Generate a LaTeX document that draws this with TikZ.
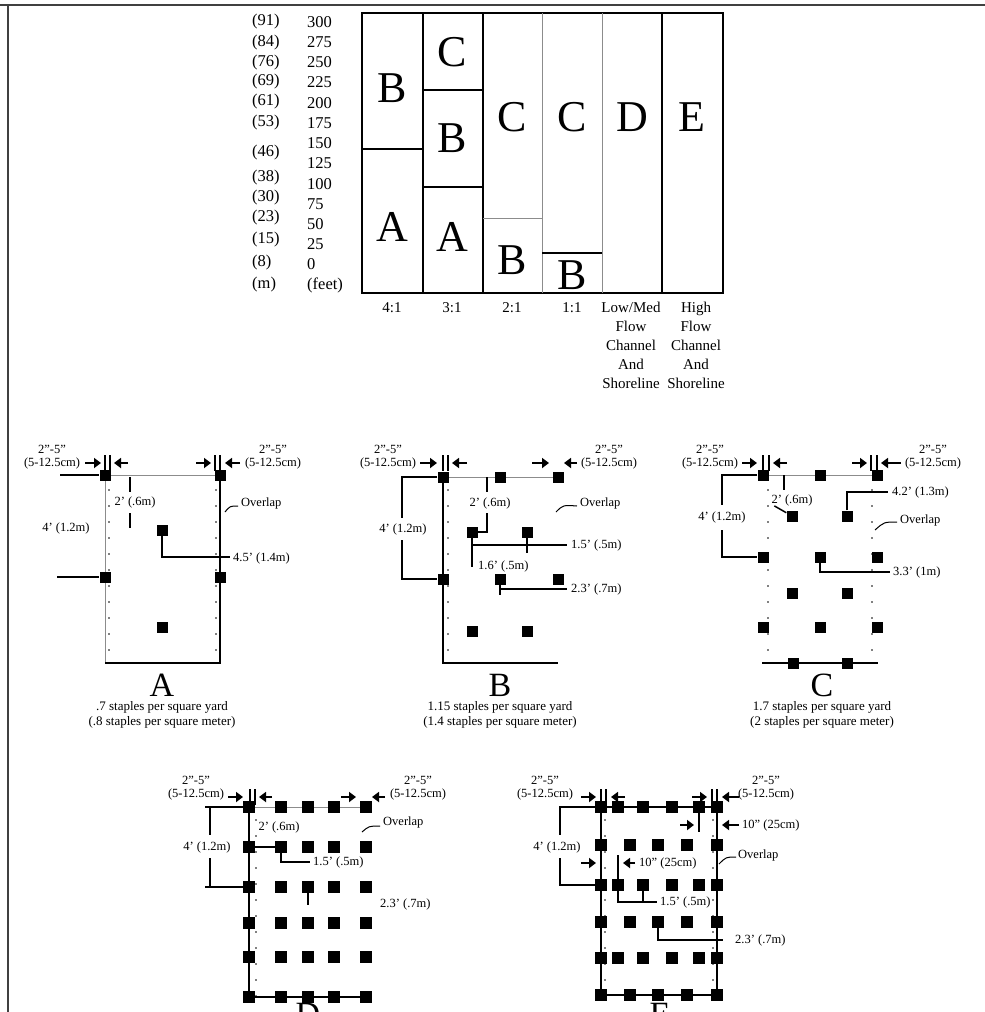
\documentclass[tikz,border=0pt]{standalone}
\usepackage{fontspec}
\setmainfont{Liberation Serif}
\usetikzlibrary{arrows.meta}

\begin{document}
\begin{tikzpicture}[x=1pt,y=-1pt,
    bigl/.style={font=\fontsize{44}{44}\selectfont,inner sep=0pt},
    lab/.style={font=\fontsize{16.5}{19}\selectfont,inner sep=0pt},
    blab/.style={font=\fontsize{15}{19}\selectfont,inner sep=0pt,align=center,anchor=north},
    ann/.style={font=\fontsize{12.5}{13}\selectfont,inner sep=0pt,align=center},
    capt/.style={font=\fontsize{34}{34}\selectfont,inner sep=0pt},
    note/.style={font=\fontsize{13}{14.5}\selectfont,inner sep=0pt,align=center},
    stp/.style={fill=black,minimum size=11pt,inner sep=0pt},
    bord/.style={line width=1.8pt},
    grayln/.style={line width=1pt,black!45},
    dotln/.style={line width=1.8pt,line cap=round,dash pattern=on 0pt off 16pt},
    dimln/.style={line width=1.5pt},
    arw/.style={line width=2.6pt,-{Triangle[length=7pt,width=10pt]}},
    bar/.style={line width=1.3pt},
    curl/.style={line width=1pt}
  ]
\useasboundingbox (0,0) rectangle (985,1012);
% page frame
\draw[line width=2pt,black!75] (0,5) -- (985,5);
\draw[line width=1.5pt,black!75] (8,5) -- (8,1012);

% slope chart
\draw[bord] (362,13) rectangle (723,293);
\draw[bord] (423,13) -- (423,293) (483,13) -- (483,293) (662,13) -- (662,293);
\draw[grayln] (542,13) -- (542,293) (602,13) -- (602,293);
\draw[bord] (362,149) -- (423,149) (423,90) -- (483,90) (423,187) -- (483,187) (542,253) -- (602,253);
\draw[grayln] (483,218) -- (542,218);
\node[bigl] (k1b) at (392,88) {B};
\node[bigl] (k1a) at (392,227) {A};
\node[bigl] (k2c) at (452,52) {C};
\node[bigl] (k2b) at (452,138) {B};
\node[bigl] (k2a) at (452,237) {A};
\node[bigl] (k3c) at (512,117) {C};
\node[bigl] (k3b) at (512,260) {B};
\node[bigl] (k4c) at (572,117) {C};
\node[bigl] (k4b) at (572,275) {B};
\node[bigl] (k5d) at (632,117) {D};
\node[bigl] (k6e) at (692,117) {E};
\foreach \v [count=\i from 0] in {300,275,250,225,200,175,150,125,100,75,50,25,0}
  \node[lab,anchor=west] (ft\i) at (307,22+20.2*\i) {\v};
\node[lab,anchor=west] (ftu) at (307,285) {(feet)};
\foreach \m/\y in {91/22,84/43,76/63,69/82,61/102,53/123,46/153,38/178,30/198,23/218,15/240,8/263}
  \node[lab,anchor=west] (m\m) at (252,\y) {(\m)};
\node[lab,anchor=west] (mu) at (252,285) {(m)};
\node[blab] (g4) at (392,302) {4:1};
\node[blab] (g3) at (452,302) {3:1};
\node[blab] (g2) at (512,302) {2:1};
\node[blab] (g1) at (572,302) {1:1};
\node[blab] (glow) at (631,302) {Low/Med\\Flow\\Channel\\And\\Shoreline};
\node[blab] (ghigh) at (696,302) {High\\Flow\\Channel\\And\\Shoreline};

% pattern A
\draw[grayln] (105,663) -- (105,475) -- (220,475);
\draw[bord] (220,475) -- (220,663) -- (105,663);
\draw[dotln] (109,490) -- (109,663);
\draw[dotln] (216,490) -- (216,663);
\foreach \n/\x/\y in {1/105/475,2/220/475,3/162/530,4/105/577,5/220/577,6/162/627}
  \node[stp] (a\n) at (\x,\y) {};
\node[ann] (al) at (52,457) {2"-5"\\(5-12.5cm)};
\draw[arw] (85,463) -- (101,463);
\draw[bar] (105,455) -- (105,471) (110,455) -- (110,471);
\draw[arw] (128,463) -- (114,463);
\draw[arw] (196,463) -- (211,463);
\draw[bar] (215,455) -- (215,471) (220,455) -- (220,471);
\draw[arw] (240,463) -- (225,463);
\node[ann] (ar) at (273,457) {2"-5"\\(5-12.5cm)};
\draw[dimln] (60,475) -- (a1);
\node[ann] (a4ft) at (66,528) {4' (1.2m)};
\draw[dimln] (57,577) -- (a4);
\draw[dimln] (130,477) -- (130,492);
\node[ann] (a2ft) at (135,502) {2' (.6m)};
\draw[dimln] (130,513) -- (130,528);
\draw[dimln] (a3) |- (230,557);
\node[ann,anchor=west] (a45) at (233,558) {4.5' (1.4m)};
\draw[curl] (225,512) .. controls (230,506) .. (238,506);
\node[ann,anchor=west] (aov) at (241,503) {Overlap};
\node[capt] (acap) at (162,685) {A};
\node[note] (anote) at (162,715) {.7 staples per square yard\\(.8 staples per square meter)};

% pattern B
\draw[grayln] (443,477) -- (558,477);
\draw[bord] (443,477) -- (443,663) -- (558,663);
\draw[dotln] (448,490) -- (448,663);
\foreach \n/\x/\y in {11/443/477,12/500/477,13/558/477,21/472/532,22/527/532,
    31/443/579,32/500/579,33/558/579,41/472/631,42/527/631}
  \node[stp] (b\n) at (\x,\y) {};
\node[ann] (bl) at (388,457) {2"-5"\\(5-12.5cm)};
\draw[arw] (420,463) -- (437,463);
\draw[bar] (443,455) -- (443,471) (448,455) -- (448,471);
\draw[arw] (467,463) -- (452,463);
\draw[arw] (532,463) -- (549,463);
\draw[arw] (577,463) -- (564,463);
\node[ann] (br) at (609,457) {2"-5"\\(5-12.5cm)};
\draw[dimln] (b11) -- (402,477) -- (402,518);
\node[ann] (b4ft) at (403,529) {4' (1.2m)};
\draw[dimln] (402,540) -- (402,579) -- (b31);
\draw[dimln] (487,477) -- (487,492);
\node[ann] (b2ft) at (490,503) {2' (.6m)};
\draw[dimln] (487,513) |- (b21.east);
\draw[curl] (556,512) .. controls (563,505) .. (577,506);
\node[ann,anchor=west] (bov) at (580,503) {Overlap};
\draw[dimln] (b21) -- (472,567);
\draw[dimln] (472,545) -- (567,545);
\draw[dimln] (b22) -- (527,553);
\node[ann,anchor=west] (bh) at (571,545) {1.5' (.5m)};
\node[ann,anchor=west] (bv) at (478,566) {1.6' (.5m)};
\draw[dimln] (b32) -- (500,595);
\draw[dimln] (500,589) -- (567,589);
\node[ann,anchor=west] (bw) at (571,589) {2.3' (.7m)};
\node[capt] (bcap) at (500,685) {B};
\node[note] (bnote) at (500,715) {1.15 staples per square yard\\(1.4 staples per square meter)};

% pattern C
\draw[grayln] (763,475) -- (877,475);
\draw[bord] (762,663) -- (878,663);
\draw[dotln] (768,490) -- (768,663);
\draw[dotln] (872,490) -- (872,663);
\foreach \n/\x/\y in {11/763/475,12/820/475,13/877/475,21/792/516,22/847/516,
    31/763/557,32/820/557,33/877/557,41/792/593,42/847/593,
    51/763/627,52/820/627,53/877/627,61/793/663,62/847/663}
  \node[stp] (c\n) at (\x,\y) {};
\node[ann] (cl) at (710,457) {2"-5"\\(5-12.5cm)};
\draw[arw] (742,463) -- (757,463);
\draw[bar] (763,455) -- (763,471) (769,455) -- (769,471);
\draw[arw] (787,463) -- (773,463);
\draw[arw] (852,463) -- (867,463);
\draw[bar] (871,455) -- (871,471) (877,455) -- (877,471);
\draw[arw] (901,463) -- (881,463);
\node[ann] (cr) at (933,457) {2"-5"\\(5-12.5cm)};
\draw[dimln] (c11) -- (722,475) -- (722,505);
\node[ann] (c4ft) at (722,517) {4' (1.2m)};
\draw[dimln] (722,530) -- (722,557) -- (c31);
\draw[dimln] (784,475) -- (784,490);
\node[ann] (c2ft) at (792,500) {2' (.6m)};
\draw[dimln] (c2ft.south west) ++(3,0) -- (c21);
\draw[dimln] (c22) |- (888,492);
\node[ann,anchor=west] (c42) at (892,492) {4.2' (1.3m)};
\draw[curl] (875,530) .. controls (884,522) .. (897,522);
\node[ann,anchor=west] (cov) at (900,520) {Overlap};
\draw[dimln] (c32) |- (890,572);
\node[ann,anchor=west] (c33) at (893,572) {3.3' (1m)};
\node[capt] (ccap) at (822,685) {C};
\node[note] (cnote) at (822,715) {1.7 staples per square yard\\(2 staples per square meter)};

% pattern D
\draw[grayln] (249,807) -- (367,807);
\draw[bord] (249,807) -- (249,997) -- (367,997);
\draw[dotln] (256,820) -- (256,997);
\foreach \r/\y in {1/807,2/847,3/887,4/923,5/957,6/997}
  \foreach \c/\x in {1/249,2/281,3/308,4/334,5/366}
    \node[stp,minimum size=12pt] (d\r\c) at (\x,\y) {};
\node[ann] (dl) at (196,788) {2"-5"\\(5-12.5cm)};
\draw[arw] (228,797) -- (243,797);
\draw[bar] (250,789) -- (250,805) (255,789) -- (255,805);
\draw[arw] (272,797) -- (259,797);
\draw[arw] (341,797) -- (356,797);
\draw[arw] (385,797) -- (372,797);
\node[ann] (dr) at (418,788) {2"-5"\\(5-12.5cm)};
\draw[dimln] (d11) -- (205,807);
\draw[dimln] (210,807) -- (210,835);
\node[ann] (d4ft) at (207,847) {4' (1.2m)};
\draw[dimln] (210,858) -- (210,887);
\draw[dimln] (205,887) -- (d31);
\node[ann] (d2ft) at (279,827) {2' (.6m)};
\draw[dimln] (d21) -- (d22);
\draw[dimln] (d22) |- (310,862);
\node[ann,anchor=west] (d15) at (313,862) {1.5' (.5m)};
\draw[dimln] (d33) -- (308,905);
\node[ann,anchor=west] (d23) at (380,904) {2.3' (.7m)};
\draw[curl] (362,832) .. controls (369,826) .. (380,826);
\node[ann,anchor=west] (dov) at (383,822) {Overlap};
\node[capt] (dcap) at (308,1014) {D};

% pattern E
\draw[bord] (601,807) rectangle (717,995);
\draw[dotln] (605,820) -- (605,995);
\draw[dotln] (713,820) -- (713,995);
\foreach \r/\y in {1/807,3/885,5/958}
  \foreach \c/\x in {1/601,2/618,3/643,4/672,5/699,6/717}
    \node[stp,minimum size=12pt] (e\r\c) at (\x,\y) {};
\foreach \r/\y in {2/845,4/922,6/995}
  \foreach \c/\x in {1/601,2/630,3/658,4/687,5/717}
    \node[stp,minimum size=12pt] (e\r\c) at (\x,\y) {};
\node[ann] (el) at (545,788) {2"-5"\\(5-12.5cm)};
\draw[arw] (581,797) -- (596,797);
\draw[bar] (601,789) -- (601,805) (606,789) -- (606,805);
\draw[arw] (625,797) -- (611,797);
\draw[arw] (692,797) -- (707,797);
\draw[bar] (712,789) -- (712,805) (717,789) -- (717,805);
\draw[arw] (739,797) -- (722,797);
\node[ann] (er) at (766,788) {2"-5"\\(5-12.5cm)};
\draw[dimln] (e11) -- (560,807) -- (560,835);
\node[ann] (e4ft) at (557,847) {4' (1.2m)};
\draw[dimln] (560,858) -- (560,885) -- (e31);
\draw[arw] (680,825) -- (694,825);
\draw[dimln] (e15) -- (699,832);
\draw[arw] (739,825) -- (722,825);
\node[ann,anchor=west] (e10a) at (742,825) {10" (25cm)};
\draw[arw] (581,863) -- (596,863);
\draw[dimln] (e32) -- (618,855);
\draw[arw] (635,863) -- (623,863);
\node[ann,anchor=west] (e10b) at (639,863) {10" (25cm)};
\draw[curl] (719,864) .. controls (726,857) .. (736,857);
\node[ann,anchor=west] (eov) at (738,855) {Overlap};
\draw[dimln] (e32) |- (657,902);
\draw[dimln] (e33) -- (643,902);
\node[ann,anchor=west] (e15l) at (660,902) {1.5' (.5m)};
\draw[dimln] (e43) |- (723,940);
\node[ann,anchor=west] (e23) at (735,940) {2.3' (.7m)};
\node[capt] (ecap) at (660,1014) {E};
\end{tikzpicture}
\end{document}
